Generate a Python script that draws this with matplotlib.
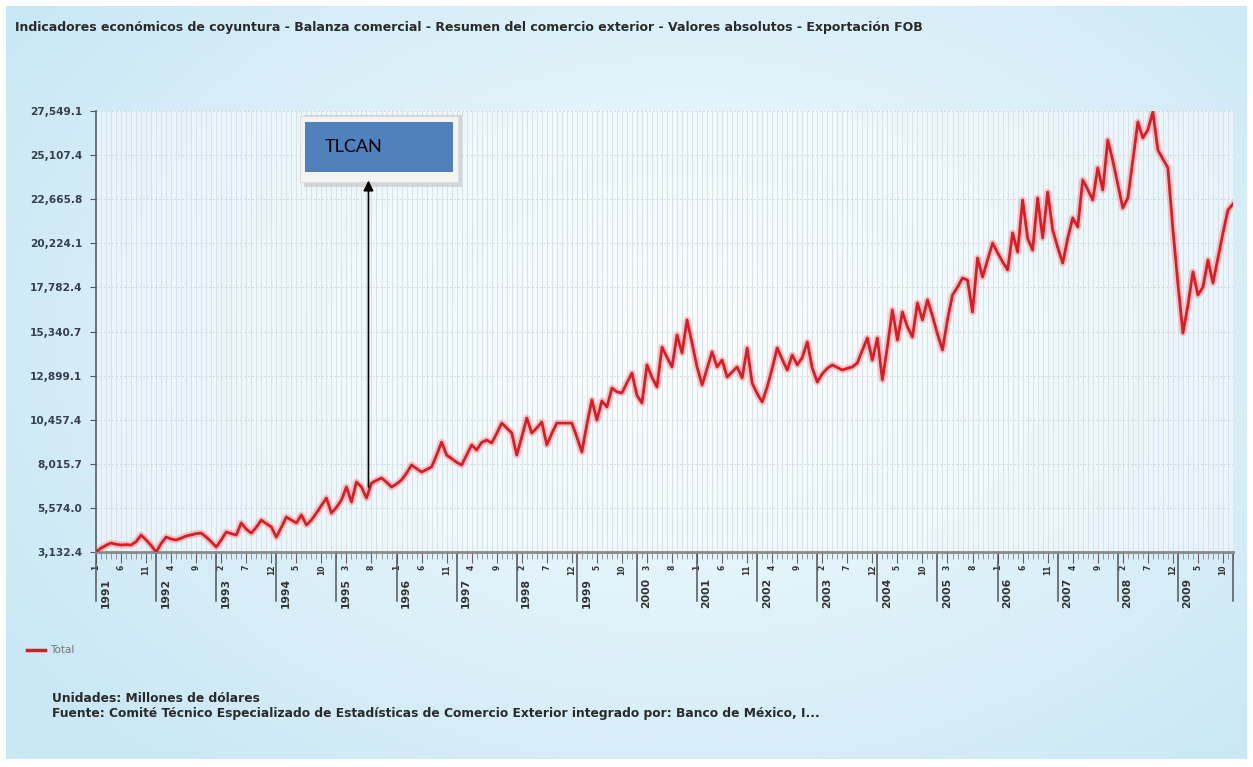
import numpy as np
import matplotlib.pyplot as plt
from matplotlib.patches import Rectangle
from matplotlib.lines import Line2D
import matplotlib.transforms as mtransforms

# Exportación FOB mensual, enero 1991 - diciembre 2009 (millones de dólares)
anio_inicio = 1991
anio_fin = 2009
exportaciones = [
    3130, 3350, 3500, 3630, 3560, 3520, 3540, 3520, 3700, 4070, 3800, 3500,          # 1991
    3130, 3600, 3960, 3850, 3800, 3900, 4020, 4080, 4150, 4180, 3960, 3700,          # 1992
    3410, 3800, 4240, 4150, 4070, 4740, 4400, 4180, 4500, 4900, 4700, 4520,          # 1993
    3960, 4500, 5070, 4900, 4740, 5180, 4630, 4900, 5290, 5700, 6120, 5290,          # 1994
    5600, 6010, 6730, 5900, 7010, 6730, 6120, 6950, 7100, 7230, 7000, 6730,          # 1995
    6900, 7120, 7500, 7950, 7750, 7560, 7700, 7840, 8500, 9220, 8500, 8300,          # 1996
    8100, 7950, 8500, 9060, 8780, 9200, 9330, 9170, 9700, 10270, 10000, 9720,        # 1997
    8500, 9500, 10550, 9720, 10000, 10330, 9060, 9700, 10270, 10270, 10270, 10270,   # 1998
    9500, 8670, 10200, 11550, 10440, 11500, 11160, 12210, 12000, 11940, 12500, 13040,  # 1999
    11800, 11380, 13490, 12800, 12270, 14480, 13900, 13380, 15150, 14150, 15980, 14700,  # 2000
    13380, 12380, 13300, 14210, 13380, 13760, 12820, 13100, 13380, 12770, 14430, 12490,  # 2001
    11900, 11440, 12270, 13300, 14430, 13800, 13210, 14040, 13490, 13900, 14760, 13320,  # 2002
    12540, 13000, 13300, 13490, 13350, 13210, 13300, 13380, 13600, 14300, 14980, 13760,  # 2003
    14980, 12660, 14500, 16530, 14870, 16420, 15600, 15040, 16920, 15980, 17090, 16200,  # 2004
    15200, 14320, 16000, 17360, 17800, 18300, 18190, 16420, 19410, 18360, 19300, 20240,  # 2005
    19700, 19200, 18750, 20800, 19740, 22620, 20500, 19850, 22730, 20520, 23060, 20960,  # 2006
    20000, 19130, 20500, 21630, 21130, 23730, 23200, 22620, 24400, 23180, 25940, 24800,  # 2007
    23500, 22180, 22730, 24800, 26940, 26060, 26500, 27490, 25390, 24900, 24400, 21000,  # 2008
    18000, 15260, 16800, 18640, 17360, 17800, 19300, 18030, 19400, 20800, 22070, 22400,  # 2009
]

etiquetas_y = ['3,132.4', '5,574.0', '8,015.7', '10,457.4', '12,899.1', '15,340.7',
               '17,782.4', '20,224.1', '22,665.8', '25,107.4', '27,549.1']

titulo = ('Indicadores económicos de coyuntura - Balanza comercial - Resumen del comercio '
          'exterior - Valores absolutos - Exportación FOB')
nota_unidades = 'Unidades: Millones de dólares'
nota_fuente = ('Fuente: Comité Técnico Especializado de Estadísticas de Comercio Exterior '
               'integrado por: Banco de México, I...')

W, H = 1253, 767
fig = plt.figure(figsize=(W / 100, H / 100), dpi=100)
fig.patch.set_facecolor('white')

# fondo degradado celeste
bg = fig.add_axes([6 / W, 8 / H, 1 - 12 / W, 1 - 14 / H])
bg.axis('off')
yy, xx = np.mgrid[0:1:200j, 0:1:300j]
d = np.clip(np.sqrt(((xx - 0.55) / 0.65) ** 2 + ((yy - 0.45) / 0.75) ** 2), 0, 1)
c_centro = np.array([0.965, 0.988, 0.997])
c_borde = np.array([0.79, 0.91, 0.962])
bg.imshow(c_centro + (c_borde - c_centro) * d[..., None], aspect='auto', extent=[0, 1, 0, 1])

x0, x1, y0, y1 = 96, 1233, 111, 552
ax = fig.add_axes([x0 / W, 1 - y1 / H, (x1 - x0) / W, (y1 - y0) / H])
ax.set_facecolor((1, 1, 1, 0.45))

meses = np.arange(len(exportaciones))
valores_y = [float(t.replace(',', '')) for t in etiquetas_y]
ax.set_xlim(0, len(exportaciones) - 1)
ax.set_ylim(valores_y[0], valores_y[-1])

# rejilla
ax.vlines(meses, valores_y[0], valores_y[-1], color='#d5dee3', lw=0.6, zorder=0)
for v in valores_y[1:]:
    ax.axhline(v, color='#d2d8dc', lw=0.7, ls=(0, (2, 2)), zorder=0)

ax.plot(meses, exportaciones, color='#f3a3a6', lw=5.0, alpha=0.6, solid_joinstyle='round', zorder=2)
ax.plot(meses, exportaciones, color='#dc1c24', lw=2.0, solid_joinstyle='round', zorder=3)

# eje y
ax.set_yticks(valores_y, etiquetas_y)
ax.tick_params(axis='y', direction='out', length=4, color='#555555', labelsize=7.6,
               labelcolor='#34404c', pad=6)
for t in ax.get_yticklabels():
    t.set_fontweight('bold')

# eje x: marcas mensuales y etiquetas cada 5 meses
etq_meses = [str(i % 12 + 1) for i in meses[::5]]
ax.set_xticks(meses[::5], etq_meses, rotation=90, fontsize=5.5, fontweight='bold', color='#333333')
ax.set_xticks(meses, minor=True)
ax.tick_params(axis='x', which='major', length=8, color='#666666', pad=1)
ax.tick_params(axis='x', which='minor', length=5, color='#888888')

trans = mtransforms.blended_transform_factory(ax.transData, ax.transAxes)
anios = list(range(anio_inicio, anio_fin + 1))
for k, a in enumerate(anios):
    i = 12 * k
    ax.plot([i, i], [0, -0.11], transform=trans, clip_on=False, color='#555555', lw=1.1)
    ax.text(i + 0.9, -0.058, str(a), transform=trans, rotation=90, ha='left', va='top',
            fontsize=7.8, fontweight='bold', color='#333333')
ax.plot([meses[-1]] * 2, [0, -0.11], transform=trans, clip_on=False, color='#555555', lw=1.1)

for s in ['top', 'right']:
    ax.spines[s].set_visible(False)
ax.spines['left'].set_color('#55606a')
ax.spines['left'].set_linewidth(1.2)
ax.spines['bottom'].set_color('#8a8a8a')
ax.spines['bottom'].set_linewidth(2)

# anotación TLCAN
ax.add_patch(Rectangle((41.6, 23350), 31.4, 3950, facecolor='#c9cfd4', edgecolor='none',
                       zorder=4, alpha=0.8))
ax.add_patch(Rectangle((40.8, 23600), 31.4, 3650, facecolor='#f4f4f4', edgecolor='#dddddd',
                       lw=0.8, zorder=5))
ax.add_patch(Rectangle((41.8, 24150), 29.4, 2800, facecolor='#4f81bd', edgecolor='none', zorder=6))
ax.text(45.6, 25560, 'TLCAN', fontsize=13, family=['Lato', 'DejaVu Sans'], color='black',
        ha='left', va='center', zorder=7)
ax.annotate('', xy=(54.4, 23700), xytext=(54.4, 6730),
            arrowprops=dict(arrowstyle='-|>', color='black', lw=1.2, mutation_scale=15,
                            shrinkA=0, shrinkB=0), zorder=8)

# textos
fig.text(15 / W, 1 - 27 / H, titulo, fontsize=9, fontweight='bold', color='#2a2a2a', va='center')
fig.add_artist(Line2D([27 / W, 45 / W], [1 - 650 / H] * 2, color='#dc1c24', lw=2.5))
fig.text(50 / W, 1 - 650 / H, 'Total', fontsize=7.5, color='#777777', va='center')
fig.text(52 / W, 1 - 698 / H, nota_unidades, fontsize=8.8, fontweight='bold', color='#2a2a2a', va='center')
fig.text(52 / W, 1 - 714 / H, nota_fuente, fontsize=8.8, fontweight='bold', color='#2a2a2a', va='center')

fig.savefig('out.png', dpi=100, facecolor=fig.get_facecolor())
